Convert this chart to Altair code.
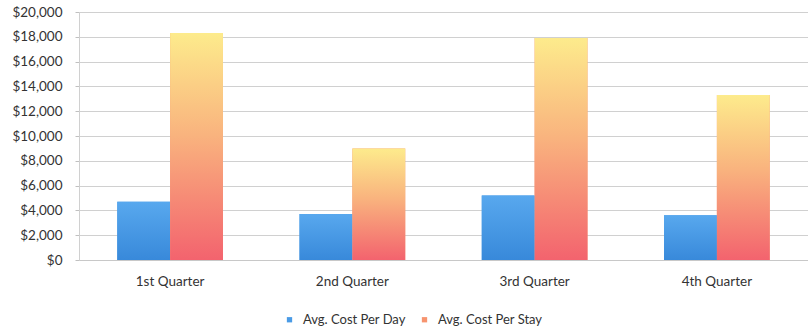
import altair as alt
import pandas as pd

# Quarterly hospital cost figures
quarters = ["1st Quarter", "2nd Quarter", "3rd Quarter", "4th Quarter"]
cost_per_day = [4700, 3700, 5200, 3600]
cost_per_stay = [18300, 9000, 17900, 13300]
series_names = ["Avg. Cost Per Day", "Avg. Cost Per Stay"]
y_ticks = list(range(0, 20001, 2000))

rows = []
for q, d, s in zip(quarters, cost_per_day, cost_per_stay):
    rows.append({"quarter": q, "series": series_names[0], "value": d})
    rows.append({"quarter": q, "series": series_names[1], "value": s})
df = pd.DataFrame(rows)

FONT = "Lato"

x_enc = alt.X(
    "quarter:N",
    sort=quarters,
    scale=alt.Scale(paddingInner=0.42, paddingOuter=0.21),
    axis=alt.Axis(
        title=None, labelAngle=0, domain=True, domainColor="#c8c8c8",
        ticks=False, labelFontSize=13.5, labelColor="#333333", labelFont=FONT,
        labelPadding=14, grid=False,
    ),
)
y_enc = alt.Y(
    "value:Q",
    scale=alt.Scale(domain=[0, 20000], nice=False),
    axis=alt.Axis(
        title=None, values=y_ticks, format="$,.0f", labelFontSize=13.5,
        labelColor="#333333", labelFont=FONT, labelPadding=13,
        domain=True, domainColor="#d0d0d0", ticks=True, tickSize=4,
        tickColor="#c0c0c0", grid=True, gridColor="#d0d0d0", gridWidth=1,
    ),
)
xoff = alt.XOffset("series:N", sort=series_names,
                   scale=alt.Scale(domain=series_names, paddingInner=0, paddingOuter=0))

# Solid base bars: these provide the legend
base = alt.Chart(df).mark_bar().encode(
    x=x_enc, y=y_enc, xOffset=xoff,
    color=alt.Color(
        "series:N", sort=series_names,
        scale=alt.Scale(domain=series_names, range=["#4a9be6", "#f7946f"]),
        legend=alt.Legend(
            title=None, orient="none", direction="horizontal",
            legendX=204, legendY=301, symbolType="square", symbolSize=28,
            labelFontSize=13, labelFont=FONT, labelColor="#333333",
            columnPadding=12, labelOffset=7,
        ),
    ),
)

blue_grad = alt.Gradient(
    gradient="linear", x1=0, x2=0, y1=0, y2=1,
    stops=[alt.GradientStop(color="#58a8ee", offset=0),
           alt.GradientStop(color="#3889da", offset=1)],
)
warm_grad = alt.Gradient(
    gradient="linear", x1=0, x2=0, y1=0, y2=1,
    stops=[alt.GradientStop(color="#fdeb8c", offset=0),
           alt.GradientStop(color="#f9b37e", offset=0.45),
           alt.GradientStop(color="#f3636e", offset=1)],
)

day_bars = alt.Chart(df).transform_filter(
    alt.datum.series == series_names[0]
).mark_bar(color=blue_grad).encode(x=x_enc, y=y_enc, xOffset=xoff)

stay_bars = alt.Chart(df).transform_filter(
    alt.datum.series == series_names[1]
).mark_bar(color=warm_grad).encode(x=x_enc, y=y_enc, xOffset=xoff)

chart = alt.layer(base, day_bars, stay_bars).properties(
    width=729, height=248,
    autosize=alt.AutoSizeParams(type="none"),
    padding={"left": 79, "top": 12, "right": 0, "bottom": 71},
    background="white",
).configure_view(stroke="#e4e4e4", strokeWidth=1)

chart.save("out.html", embed_options={"renderer": "svg", "actions": False})
